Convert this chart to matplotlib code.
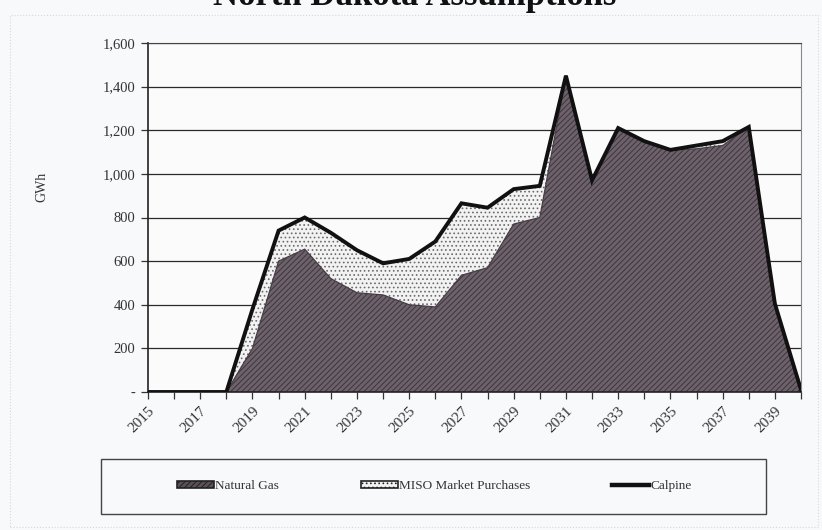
import matplotlib
matplotlib.use("Agg")
import matplotlib.pyplot as plt
from matplotlib.patches import Rectangle
from matplotlib.lines import Line2D
import numpy as np

years = list(range(2015, 2041))
natural_gas = [0, 0, 0, 0, 200, 600, 655, 520, 455, 445, 400, 390, 535, 570,
               770, 800, 1450, 970, 1210, 1150, 1110, 1115, 1130, 1215, 405, 10]
miso = [0, 0, 0, 0, 180, 140, 145, 210, 195, 145, 210, 300, 330, 275,
        160, 145, 0, 0, 0, 0, 0, 15, 20, 0, 0, 0]
calpine = [0] * len(years)
yticks = [0, 200, 400, 600, 800, 1000, 1200, 1400, 1600]
ytick_labels = ["-", "200", "400", "600", "800", "1,000", "1,200", "1,400", "1,600"]

plt.rcParams["font.family"] = ["Liberation Serif", "DejaVu Serif"]
plt.rcParams["hatch.linewidth"] = 0.7

W, H = 822, 530
fig = plt.figure(figsize=(W / 100, H / 100), dpi=100, facecolor="#f8f9fb")
ax = fig.add_axes([148 / W, 1 - 392 / H, (801 - 148) / W, (392 - 43) / H])
ax.set_facecolor("#fbfbfc")

x = np.arange(len(years))
ng = np.array(natural_gas, dtype=float)
top_miso = ng + np.array(miso)
top_all = top_miso + np.array(calpine)

ax.fill_between(x, 0, ng, facecolor="#6d626b", edgecolor="#3e353c",
                hatch="//////", linewidth=0, zorder=2)
ax.plot(x, ng, color="#453c43", lw=0.9, zorder=3)
ax.fill_between(x, ng, top_miso, facecolor="#f2f2f2", edgecolor="#6a6a6a",
                hatch="....", linewidth=0, zorder=2)
ax.plot(x, top_all, color="#111111", lw=2.8, solid_joinstyle="miter", zorder=4)

ax.set_xlim(0, len(years) - 1)
ax.set_ylim(0, 1600)
ax.set_yticks(yticks)
ax.set_yticklabels(ytick_labels, fontsize=10.5, color="#333333")
ax.yaxis.grid(True, color="#2a2a2a", lw=0.9, zorder=1)
ax.set_axisbelow(True)

ax.set_xticks(x)
ax.set_xticklabels([str(y) if (y - 2015) % 2 == 0 else "" for y in years],
                   rotation=45, ha="right", rotation_mode="anchor",
                   fontsize=11, color="#333333")
ax.tick_params(axis="both", direction="out", length=5, width=0.9, colors="#333333",
               pad=4)

for side in ["left", "bottom"]:
    ax.spines[side].set_color("#222222")
    ax.spines[side].set_linewidth(1.2)
ax.spines["top"].set_color("#444444")
ax.spines["right"].set_color("#888888")

fig.text(42 / W, 1 - 187 / H, "GWh", rotation=90, ha="center", va="center",
         fontsize=10, color="#333333")

# title, cut off at the top edge as in the source
fig.text(415 / W, 1 - 5 / H, "North Dakota Assumptions", ha="center",
         va="baseline", fontsize=25, fontweight="bold", color="#111111")

# outer chart border
fig.patches.append(Rectangle((10 / W, 1 - 527 / H), (818 - 10) / W, (527 - 15) / H,
                             transform=fig.transFigure, fill=False,
                             edgecolor="#d6d8dc", lw=0.8, linestyle=":"))

# legend box
fig.patches.append(Rectangle((101 / W, 1 - 514 / H), (766 - 101) / W, (514 - 459) / H,
                             transform=fig.transFigure, fill=False,
                             edgecolor="#444444", lw=1.0))

handles = [
    Rectangle((0, 0), 1, 1, facecolor="#5a5058", edgecolor="#222222",
              hatch="//////", lw=1.2),
    Rectangle((0, 0), 1, 1, facecolor="#f2f2f2", edgecolor="#222222",
              hatch="....", lw=1.2),
    Line2D([], [], color="#111111", lw=3.2),
]
fig.legend(handles, ["Natural Gas", "MISO Market Purchases", "Calpine"],
           loc="center", bbox_to_anchor=(434 / W, 1 - 486 / H), ncol=3,
           frameon=False, fontsize=9.5, handlelength=2.8, handleheight=0.45,
           handletextpad=0.1, columnspacing=6.2, labelcolor="#333333")

fig.savefig("out.png", dpi=100, facecolor=fig.get_facecolor())
